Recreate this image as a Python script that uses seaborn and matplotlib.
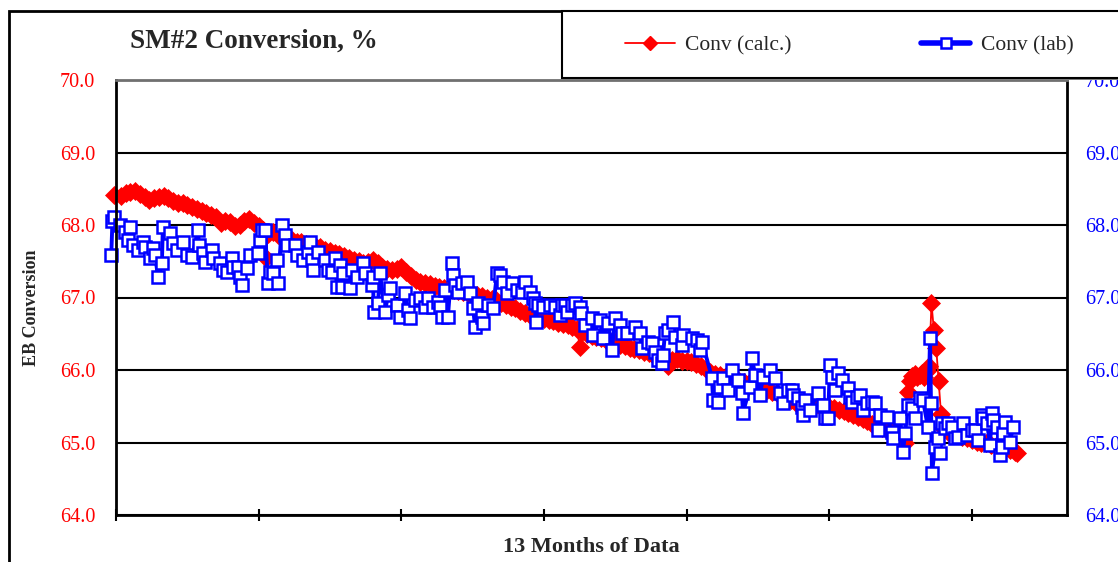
#!/usr/bin/env python3
"""SM#2 conversion: calculated vs lab EB conversion over 13 months."""

import matplotlib
matplotlib.use("Agg")
import matplotlib.pyplot as plt
from matplotlib.patches import Rectangle
from matplotlib.lines import Line2D
from matplotlib.ticker import FormatStrFormatter
import seaborn as sns

sns.set_theme(style="white")
plt.rcParams["font.family"] = ["Liberation Serif", "DejaVu Serif"]

W, H = 1118, 562

# Calculated conversion (day index, %)
calc_day = [
    -1, 2, 4, 6, 8, 10, 12, 14, 16, 18, 20, 22, 24, 26, 28, 30, 32, 34, 36, 38,
    40, 42, 44, 46, 48, 50, 52, 54, 56, 58, 60, 62, 63, 64, 66, 68, 70, 72, 74,
    76, 78, 80, 82, 84, 86, 88, 90, 92, 94, 96, 98, 100, 102, 104, 106, 108, 110,
    112, 114, 116, 118, 120, 122, 124, 126, 128, 130, 132, 134, 136, 138, 140,
    142, 144, 146, 148, 150, 152, 154, 156, 158, 160, 162, 164, 166, 168, 170,
    172, 174, 176, 178, 180, 182, 184, 186, 188, 190, 192, 194, 195, 196, 198,
    200, 202, 204, 206, 208, 210, 212, 214, 216, 218, 220, 222, 224, 226, 228,
    230, 232, 234, 236, 238, 240, 242, 244, 246, 248, 250, 252, 254, 256, 258,
    260, 262, 264, 266, 268, 270, 272, 274, 276, 278, 280, 282, 284, 286, 288,
    290, 292, 294, 296, 298, 300, 302, 304, 306, 308, 310, 312, 314, 316, 318,
    320, 322, 324, 326, 328, 330, 331, 332, 333, 334, 335, 336, 337, 338, 339,
    340, 341, 342, 343, 344, 345, 346, 347, 348, 350, 352, 354, 356, 358, 360,
    362, 364, 366, 368, 370, 372, 374, 376, 378, 379,
]
calc_conv = [
    68.42, 68.40, 68.44, 68.45, 68.47, 68.43, 68.38, 68.35, 68.37, 68.38,
    68.40, 68.37, 68.33, 68.31, 68.30, 68.27, 68.25, 68.22, 68.20, 68.17,
    68.14, 68.11, 68.03, 68.06, 68.04, 67.99, 68.00, 68.06, 68.08, 68.03,
    67.98, 67.93, 67.55, 67.88, 67.90, 67.86, 67.85, 67.82, 67.80, 67.77,
    67.76, 67.74, 67.73, 67.70, 67.69, 67.66, 67.64, 67.62, 67.60, 67.57,
    67.55, 67.52, 67.50, 67.48, 67.49, 67.52, 67.47, 67.42, 67.39, 67.38,
    67.40, 67.42, 67.35, 67.30, 67.24, 67.22, 67.20, 67.18, 67.16, 67.15,
    67.13, 67.11, 67.10, 67.09, 67.08, 67.06, 67.05, 67.03, 67.02, 67.00,
    66.98, 66.96, 66.93, 66.90, 66.87, 66.85, 66.82, 66.79, 66.76, 66.74,
    66.72, 66.70, 66.69, 66.67, 66.65, 66.64, 66.62, 66.60, 66.56, 66.32,
    66.52, 66.50, 66.47, 66.45, 66.44, 66.41, 66.39, 66.38, 66.35, 66.33,
    66.31, 66.29, 66.27, 66.25, 66.23, 66.21, 66.19, 66.17, 66.06, 66.14,
    66.15, 66.13, 66.12, 66.11, 66.08, 66.05, 66.01, 65.97, 65.95, 65.93,
    65.91, 65.89, 65.87, 65.85, 65.83, 65.81, 65.79, 65.77, 65.75, 65.72,
    65.70, 65.68, 65.66, 65.63, 65.58, 65.55, 65.53, 65.52, 65.52, 65.51,
    65.50, 65.50, 65.49, 65.47, 65.45, 65.43, 65.41, 65.38, 65.35, 65.32,
    65.29, 65.26, 65.23, 65.20, 65.18, 65.17, 65.14, 65.10, 65.04, 65.00,
    65.70, 65.85, 65.92, 65.95, 65.90, 65.93, 65.96, 65.90, 65.98, 66.05,
    66.92, 66.55, 66.30, 65.85, 65.40, 65.20, 65.14, 65.12, 65.10, 65.08,
    65.06, 65.04, 65.01, 64.99, 65.00, 64.97, 64.95, 64.93, 64.91, 64.89,
    64.87, 64.86,
]

# Lab conversion (day index, %)
lab_day = [
    -2.0, -1.5, -0.8, 1.7, 3.8, 5.0, 5.9, 7.2, 9.3, 11.4, 12.2, 14.3, 15.6,
    16.4, 17.7, 19.3, 19.7, 22.7, 24.0, 25.7, 28.2, 29.9, 32.0, 34.5, 34.9,
    36.6, 37.4, 40.4, 40.8, 43.7, 45.0, 46.7, 48.8, 49.2, 51.3, 52.1, 53.0,
    55.1, 56.4, 59.7, 60.6, 61.4, 62.7, 63.9, 64.8, 66.0, 67.7, 68.1, 69.8,
    71.1, 71.9, 75.3, 76.1, 78.7, 80.8, 81.6, 82.4, 82.9, 85.0, 87.9, 89.2,
    90.9, 92.1, 92.9, 94.2, 95.1, 95.5, 98.4, 99.3, 101.4, 103.9, 104.7, 107.7,
    108.1, 108.4, 110.2, 111.0, 113.1, 114.4, 115.2, 118.2, 119.5, 121.6,
    122.8, 123.7, 125.8, 127.9, 130.0, 131.2, 133.3, 135.4, 136.3, 137.1,
    138.4, 139.6, 141.3, 141.6, 142.6, 143.9, 145.5, 147.6, 148.9, 150.2,
    151.0, 152.3, 153.9, 154.4, 156.5, 158.6, 160.3, 161.5, 162.8, 164.5,
    166.6, 168.7, 170.8, 172.0, 174.1, 175.4, 176.2, 176.5, 177.5, 179.6,
    182.5, 184.6, 186.8, 187.6, 188.9, 189.7, 191.8, 193.1, 195.2, 195.5,
    197.3, 200.2, 200.5, 203.6, 204.8, 206.9, 208.6, 209.9, 212.0, 212.8,
    214.9, 218.3, 220.4, 221.2, 223.8, 225.4, 226.7, 228.0, 229.7, 230.1,
    230.9, 232.2, 234.3, 235.1, 238.1, 238.5, 242.3, 244.4, 245.6, 246.5,
    250.7, 251.1, 253.2, 254.0, 255.3, 257.4, 259.1, 261.6, 263.3, 263.7,
    266.7, 267.5, 268.8, 270.9, 272.1, 275.1, 277.2, 279.3, 280.5, 282.7,
    284.3, 284.8, 286.9, 288.6, 289.0, 289.8, 291.9, 295.3, 297.4, 298.2,
    299.5, 300.3, 301.2, 302.4, 303.7, 305.4, 307.9, 308.7, 309.6, 311.7,
    312.9, 314.2, 315.9, 318.0, 319.2, 320.5, 321.3, 324.3, 326.4, 326.8,
    329.8, 331.0, 331.9, 333.1, 334.8, 336.1, 338.2, 339.4, 341.5, 342.4,
    342.8, 343.2, 344.5, 345.7, 346.6, 347.4, 348.7, 350.0, 351.6, 352.9,
    354.2, 356.3, 357.9, 360.0, 361.3, 362.6, 364.3, 364.7, 366.4, 367.6,
    368.5, 368.9, 370.6, 371.8, 372.7, 373.1, 373.9, 376.0, 377.3,
]
lab_conv = [
    67.58, 68.05, 68.11, 68.00, 67.90, 67.79, 67.97, 67.72, 67.66, 67.77,
    67.69, 67.55, 67.68, 67.59, 67.28, 67.47, 67.97, 67.89, 67.75, 67.66,
    67.77, 67.59, 67.56, 67.93, 67.72, 67.61, 67.49, 67.66, 67.54, 67.48,
    67.38, 67.35, 67.54, 67.42, 67.42, 67.28, 67.17, 67.41, 67.59, 67.61,
    67.79, 67.93, 67.93, 67.20, 67.35, 67.34, 67.52, 67.20, 68.00, 67.86,
    67.72, 67.72, 67.59, 67.52, 67.63, 67.77, 67.52, 67.38, 67.63, 67.52,
    67.38, 67.35, 67.55, 67.14, 67.45, 67.14, 67.34, 67.13, 67.38, 67.28,
    67.48, 67.34, 67.17, 67.28, 66.80, 66.92, 67.34, 66.80, 67.03, 67.13,
    66.90, 66.73, 67.06, 66.83, 66.72, 66.97, 66.99, 66.87, 66.99, 66.87,
    66.94, 66.87, 66.73, 67.10, 66.73, 67.48, 67.31, 67.17, 67.08, 67.20,
    67.21, 67.06, 66.86, 66.60, 66.92, 66.73, 66.65, 66.90, 66.86, 67.34,
    67.31, 67.21, 67.06, 67.20, 67.10, 67.08, 67.21, 67.08, 66.99, 66.92,
    66.66, 66.90, 66.87, 66.90, 66.87, 66.76, 66.90, 66.90, 66.80, 66.90,
    66.92, 66.87, 66.79, 66.62, 66.72, 66.48, 66.69, 66.44, 66.65, 66.28,
    66.72, 66.62, 66.51, 66.51, 66.59, 66.51, 66.30, 66.39, 66.37, 66.25,
    66.14, 66.10, 66.21, 66.51, 66.55, 66.66, 66.46, 66.34, 66.48, 66.44,
    66.41, 66.28, 66.39, 65.89, 65.59, 65.56, 65.77, 65.89, 65.72, 66.00,
    65.86, 65.68, 65.41, 65.77, 66.17, 65.93, 65.66, 65.90, 66.00, 65.89,
    65.68, 65.54, 65.72, 65.72, 65.66, 65.61, 65.49, 65.38, 65.59, 65.45,
    65.68, 65.52, 65.34, 65.34, 66.07, 65.90, 65.72, 65.96, 65.86, 65.75,
    65.63, 65.56, 65.63, 65.66, 65.45, 65.54, 65.56, 65.54, 65.17, 65.38,
    65.35, 65.14, 65.06, 65.34, 64.87, 65.13, 65.52, 65.48, 65.34, 65.61,
    65.59, 65.21, 66.44, 65.54, 64.58, 64.94, 65.06, 64.86, 65.27, 65.20,
    65.27, 65.21, 65.06, 65.08, 65.27, 65.10, 65.17, 65.17, 65.03, 65.38,
    65.34, 65.27, 64.97, 65.41, 65.31, 65.21, 64.83, 64.94, 65.13, 65.28,
    65.01, 65.21,
]

y_ticks = [64.0, 65.0, 66.0, 67.0, 68.0, 69.0, 70.0]
x_ticks = [0, 60, 120, 180, 240, 300, 360]
x_max = 400


def main():
    fig = plt.figure(figsize=(W / 100, H / 100), dpi=100)
    fig.patch.set_facecolor("white")

    # Outer chart border and legend box (partly cropped in the original)
    fig.patches.append(Rectangle((9 / W, -0.2), 1.5, 1.2 - 11 / H,
                                 transform=fig.transFigure, fill=False,
                                 edgecolor="black", lw=2))
    fig.patches.append(Rectangle((564 / W, 1 - 80 / H), 1.0, 67 / H,
                                 transform=fig.transFigure, fill=True,
                                 facecolor="#808080", edgecolor="none"))
    fig.patches.append(Rectangle((562 / W, 1 - 78 / H), 1.0, 67 / H,
                                 transform=fig.transFigure, fill=True,
                                 facecolor="white", edgecolor="black", lw=1.5))

    ax = fig.add_axes([116 / W, 1 - 515 / H, (1067 - 116) / W, (515 - 80) / H])
    ax.set_facecolor("white")
    ax.set_axisbelow(True)

    sns.lineplot(x=calc_day, y=calc_conv, ax=ax, color="red", lw=1.3,
                 marker="D", markersize=9.5, markeredgecolor="red",
                 markerfacecolor="red", markeredgewidth=0.5,
                 estimator=None, sort=False, legend=False)
    sns.lineplot(x=lab_day, y=lab_conv, ax=ax, color="blue", lw=2.8,
                 marker="s", markersize=8, markeredgecolor="blue",
                 markerfacecolor="white", markeredgewidth=1.8,
                 estimator=None, sort=False, legend=False)
    for line in ax.lines:
        line.set_clip_on(False)

    ax.set_xlim(0, x_max)
    ax.set_ylim(y_ticks[0], y_ticks[-1])
    ax.set_xticks(x_ticks)
    ax.set_xticklabels([])
    ax.set_yticks(y_ticks)
    ax.yaxis.set_major_formatter(FormatStrFormatter("%.1f"))
    ax.set_xlabel("")
    ax.set_ylabel("")
    ax.grid(axis="y", color="black", lw=1.5)
    ax.grid(axis="x", visible=False)
    ax.tick_params(axis="y", length=0, pad=15, labelsize=14.5,
                   labelcolor="red")
    ax.tick_params(axis="x", direction="inout", length=8, width=1.5,
                   color="black", bottom=True)
    for side in ["left", "bottom", "right"]:
        ax.spines[side].set_color("black")
        ax.spines[side].set_linewidth(2)
    ax.spines["top"].set_color("#707070")
    ax.spines["top"].set_linewidth(2)

    ax2 = ax.twinx()
    ax2.set_ylim(y_ticks[0], y_ticks[-1])
    ax2.set_yticks(y_ticks)
    ax2.yaxis.set_major_formatter(FormatStrFormatter("%.1f"))
    ax2.tick_params(axis="y", length=0, pad=13, labelsize=14.5,
                    labelcolor="blue")
    ax2.grid(False)
    for s in ax2.spines.values():
        s.set_visible(False)

    fig.text(130 / W, 1 - 41 / H, "SM#2 Conversion, %", fontsize=19.5,
             fontweight="bold", va="center", ha="left")
    fig.text(32 / W, 1 - 308 / H, "EB Conversion", fontsize=13,
             fontweight="bold", rotation=90, va="center", ha="center")
    fig.text(591 / W, 1 - 547 / H, "13 Months of Data", fontsize=16,
             fontweight="bold", va="center", ha="center")

    handles = [
        Line2D([], [], color="red", lw=1.3, marker="D", markersize=7,
               markerfacecolor="red", markeredgecolor="red"),
        Line2D([], [], color="blue", lw=4, marker="s", markersize=7,
               markerfacecolor="white", markeredgecolor="blue",
               markeredgewidth=1.8),
    ]
    fig.legend(handles, ["Conv (calc.)", "Conv (lab)"], ncol=2,
               loc="center left", bbox_to_anchor=(625 / W, 1 - 45 / H),
               frameon=False, fontsize=15.5, handlelength=2.3,
               handletextpad=0.5, columnspacing=6.0, borderpad=0,
               borderaxespad=0)

    fig.savefig("out.png", dpi=100, facecolor="white")


if __name__ == "__main__":
    main()
